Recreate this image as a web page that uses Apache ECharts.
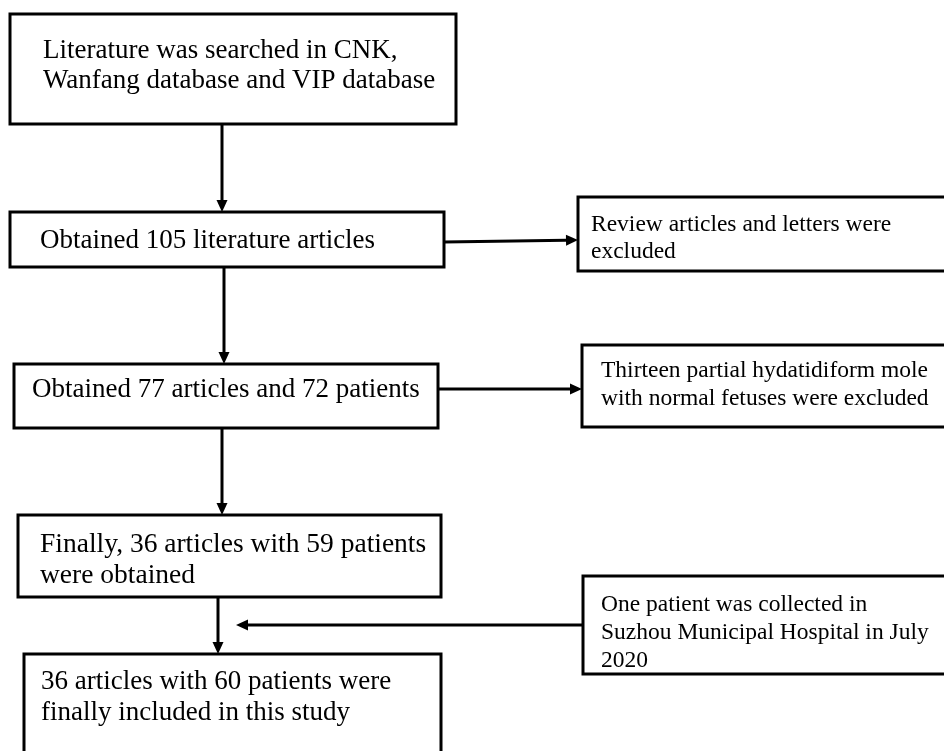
<!DOCTYPE html>
<html><head><meta charset="utf-8">
<script src="https://cdn.jsdelivr.net/npm/echarts@6/dist/echarts.min.js"></script>
<style>html,body{margin:0;padding:0;background:#fff}#c{width:944px;height:751px}</style>
</head><body><div id="c"></div>
<script>
// ---- content ----
const boxTexts = [
  ["Literature was searched in CNK,", "Wanfang database and VIP database"],
  ["Obtained 105 literature articles"],
  ["Review articles and letters were", "excluded"],
  ["Obtained 77 articles and 72 patients"],
  ["Thirteen partial hydatidiform mole", "with normal fetuses were excluded"],
  ["Finally, 36 articles with 59 patients", "were obtained"],
  ["One patient was collected in", "Suzhou Municipal Hospital in July", "2020"],
  ["36 articles with 60 patients were", "finally included in this study"]
];
// arrows: [fromBox, toBox]
const links = [[0,1],[1,2],[1,3],[3,4],[3,5],[5,7],[6,"mid"]];

// ---- layout (positions/styles) ----
const layout = [
  {x1:10, y1:14, x2:456, y2:124, tx:43, ty:[51,81], fs:27},
  {x1:10, y1:212, x2:444, y2:267, tx:40, ty:[241], fs:27},
  {x1:578, y1:197, x2:952, y2:271, tx:591, ty:[225,252], fs:23.5},
  {x1:14, y1:364, x2:438, y2:428, tx:32, ty:[390], fs:27},
  {x1:582, y1:345, x2:952, y2:427, tx:601, ty:[371,399], fs:23.5},
  {x1:18, y1:515, x2:441, y2:597, tx:40, ty:[545,576], fs:27.5},
  {x1:583, y1:576, x2:952, y2:674, tx:601, ty:[605,633,661], fs:23.5},
  {x1:24, y1:654, x2:441, y2:770, tx:41, ty:[682,713], fs:27}
];
const arrowGeom = [
  [[222,124],[222,212]],
  [[444,242],[578,240]],
  [[224,267],[224,364]],
  [[438,389],[582,389]],
  [[222,428],[222,515]],
  [[218,597],[218,654]],
  [[583,625],[236,625]]
];

const elements = [];
layout.forEach((b, i) => {
  elements.push({type:'rect', shape:{x:b.x1, y:b.y1, width:b.x2-b.x1, height:b.y2-b.y1},
    style:{fill:'#fff', stroke:'#000', lineWidth:3}});
  boxTexts[i].forEach((t, j) => {
    elements.push({type:'text', x:b.tx, y:b.ty[j],
      style:{text:t, fill:'#000', font:`${b.fs}px "Liberation Serif"`, textVerticalAlign:'middle', textAlign:'left'}});
  });
});
links.forEach((l, k) => {
  const [p, q] = arrowGeom[k];
  const dx = q[0]-p[0], dy = q[1]-p[1], len = Math.hypot(dx,dy);
  const ux = dx/len, uy = dy/len, hl = 12, hw = 5.5;
  const bx = q[0]-ux*hl, by = q[1]-uy*hl;
  elements.push({type:'line', shape:{x1:p[0], y1:p[1], x2:bx, y2:by}, style:{stroke:'#000', lineWidth:3}});
  elements.push({type:'polygon', shape:{points:[[q[0],q[1]],[bx-uy*hw,by+ux*hw],[bx+uy*hw,by-ux*hw]]}, style:{fill:'#000'}});
});

const chart = echarts.init(document.getElementById('c'), null, {renderer:'canvas'});
chart.setOption({backgroundColor:'#fff', animation:false, graphic:{elements}});
</script></body></html>
